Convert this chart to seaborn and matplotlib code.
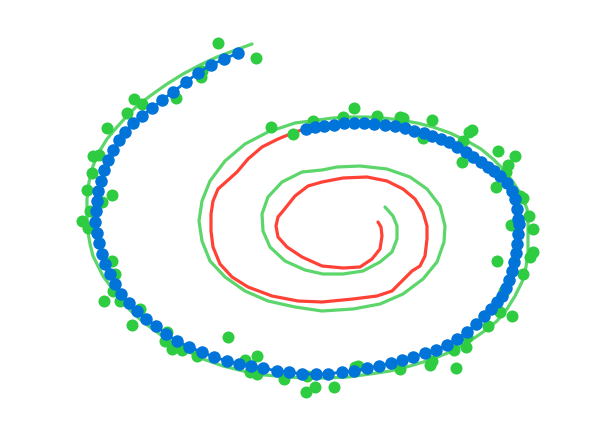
import numpy as np
import pandas as pd
import matplotlib
matplotlib.use("Agg")
import matplotlib.pyplot as plt
import seaborn as sns

# green spiral (image pixel coordinates, y grows downwards)
spiral_x = [252, 233, 217, 200, 183, 167, 150, 137, 127, 117, 107, 99, 93, 89, 87, 87,
            88, 90, 93, 98, 103, 111, 120, 131, 143, 157, 170, 187, 203, 223, 243, 265,
            287, 307, 327, 348, 370, 390, 410, 430, 450, 467, 483, 497, 507, 515, 522,
            526, 528, 528, 528, 527, 522, 513, 504, 493, 481, 467, 450, 433, 417, 400,
            383, 367, 350, 333, 318, 295, 268, 245, 225, 210, 202, 199, 202, 210, 225,
            245, 268, 295, 322, 353, 380, 403, 423, 437, 444, 445, 440, 427, 410, 387,
            360, 337, 322, 302, 282, 268, 262, 263, 270, 285, 305, 323, 343, 363, 380,
            392, 397, 397, 393, 385]
spiral_y = [45, 52, 58, 66, 75, 85, 97, 107, 117, 128, 140, 153, 167, 183, 200, 217,
            233, 245, 257, 267, 277, 288, 300, 312, 323, 333, 343, 352, 360, 367, 372, 376,
            378, 379, 379, 378, 375, 372, 367, 361, 353, 344, 333, 322, 310, 297, 283,
            268, 253, 240, 225, 210, 197, 183, 171, 160, 150, 142, 134, 128, 124, 121,
            119, 118, 118, 119, 121, 124, 133, 145, 162, 182, 202, 222, 242, 262, 278,
            292, 302, 308, 312, 310, 305, 295, 280, 263, 243, 227, 207, 190, 178, 170,
            167, 168, 171, 173, 183, 198, 215, 232, 248, 262, 271, 275, 275, 272, 263,
            253, 240, 227, 217, 208]

# red curve
red_x = [302, 295, 278, 262, 248, 237, 227, 218, 213, 211, 211, 213, 220, 232, 248,
         272, 298, 322, 353, 377, 392, 402, 412, 420, 425, 427, 427, 423, 415, 403,
         387, 367, 343, 322, 308, 295, 283, 278, 276, 278, 287, 302, 322, 343, 360,
         372, 380, 382, 381, 378]
red_y = [131, 133, 140, 148, 160, 173, 182, 190, 202, 215, 232, 248, 265, 278, 288,
         297, 302, 303, 300, 297, 292, 282, 272, 267, 257, 240, 227, 213, 200, 190,
         182, 178, 179, 183, 187, 197, 212, 218, 227, 238, 248, 258, 267, 269, 268,
         260, 250, 237, 228, 223]

# blue samples
blue_x = [238, 224, 211, 198, 186, 173, 162, 152, 142, 133, 125, 119, 113, 108, 104,
          101, 98, 97, 96, 95, 97, 99, 102, 105, 110, 115, 121, 129, 137, 146, 156,
          166, 177, 189, 202, 214, 227, 239, 251, 263, 277, 289, 302, 316, 328, 342,
          354, 367, 379, 391, 402, 413, 425, 436, 447, 457, 467, 476, 484, 491, 497,
          502, 506, 509, 512, 514, 516, 517, 518, 519, 518, 517, 515, 512, 507,
          500, 494, 488, 481, 473, 466, 457, 449, 441, 432, 424, 414, 405, 395, 385,
          374, 364, 354, 344, 334, 324, 315, 306]
blue_y = [54, 60, 66, 74, 83, 93, 101, 109, 117, 124, 133, 141, 151, 161, 171, 182,
          192, 202, 212, 223, 234, 244, 255, 265, 275, 285, 295, 304, 312, 320, 327,
          335, 342, 348, 353, 358, 362, 365, 367, 369, 372, 373, 375, 375, 375, 373,
          372, 369, 367, 364, 361, 358, 354, 351, 346, 340, 333, 325, 317, 310, 303,
          297, 289, 281, 272, 263, 254, 245, 235, 225, 220, 210, 200, 192, 184,
          177, 172, 168, 163, 158, 153, 148, 143, 140, 137, 134, 132, 129, 127, 126,
          125, 124, 124, 124, 126, 127, 128, 130]

# green noisy points
pts_x = [218, 256, 201, 202, 176, 134, 142, 127, 107, 93, 99, 92, 87, 112, 102, 90,
         82, 88, 112, 115, 113, 104, 120, 140, 132, 167, 165, 172, 182, 197, 228,
         245, 257, 250, 257, 284, 307, 306, 315, 334, 355, 358, 400, 430, 432, 456,
         454, 466, 467, 488, 500, 512, 504, 271, 293, 313, 343, 354, 377, 400, 403,
         432, 423, 472, 469, 463, 462, 498, 515, 508, 506, 496, 520, 523, 529, 533,
         511, 533, 530, 497, 523]
pts_y = [44, 59, 78, 72, 99, 100, 105, 114, 129, 157, 156, 174, 191, 196, 203, 212,
         222, 229, 262, 275, 292, 302, 302, 310, 326, 333, 342, 350, 351, 357, 338,
         361, 357, 373, 375, 380, 377, 393, 388, 388, 368, 367, 370, 366, 362, 369,
         351, 348, 338, 327, 313, 317, 292, 128, 135, 122, 118, 109, 117, 118, 119,
         121, 139, 131, 133, 142, 163, 152, 157, 166, 173, 188, 197, 199, 217, 230,
         226, 253, 258, 262, 275]

spiral = pd.DataFrame({"x": spiral_x, "y": spiral_y})
red = pd.DataFrame({"x": red_x, "y": red_y})
blue = pd.DataFrame({"x": blue_x, "y": blue_y})
pts = pd.DataFrame({"x": pts_x, "y": pts_y})

sns.set_style("white")
fig = plt.figure(figsize=(5.98, 4.27), dpi=100)
ax = fig.add_axes([0, 0, 1, 1])

sns.lineplot(data=spiral, x="x", y="y", sort=False, estimator=None, ax=ax,
             color="#5cd66a", linewidth=2.3, solid_joinstyle="round")
sns.lineplot(data=red, x="x", y="y", sort=False, estimator=None, ax=ax,
             color="#ff4136", linewidth=2.3, solid_joinstyle="round")
sns.scatterplot(data=pts, x="x", y="y", ax=ax, color="#2ecc40", s=75,
                linewidth=0, zorder=3)
sns.lineplot(data=blue, x="x", y="y", sort=False, estimator=None, ax=ax,
             color="#0074d9", linewidth=2, marker="o", markersize=9,
             markeredgewidth=0, zorder=4)

ax.set_xlim(0, 598)
ax.set_ylim(427, 0)
ax.set_axis_off()

plt.savefig("out.png", dpi=100)
